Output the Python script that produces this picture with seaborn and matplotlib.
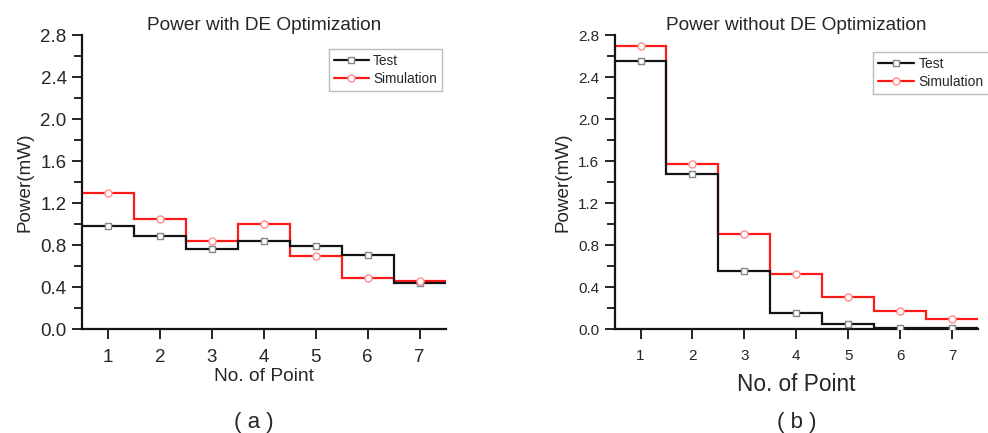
import numpy as np
import seaborn as sns
import matplotlib.pyplot as plt
from matplotlib.lines import Line2D
from matplotlib.ticker import MultipleLocator

# =========================================================
# DATA
# =========================================================

points = np.array([1, 2, 3, 4, 5, 6, 7])

test_with_de = [0.98, 0.89, 0.76, 0.84, 0.79, 0.71, 0.44]
sim_with_de = [1.30, 1.045, 0.835, 1.00, 0.70, 0.49, 0.46]

test_without_de = [2.55, 1.48, 0.55, 0.15, 0.05, 0.015, 0.01]
sim_without_de = [2.70, 1.57, 0.905, 0.525, 0.31, 0.175, 0.10]

titles = ["Power with DE Optimization", "Power without DE Optimization"]
panel_tags = ["( a )", "( b )"]

# =========================================================
# SETTINGS
# =========================================================

sns.set_theme(style="ticks")
plt.rcParams["font.family"] = ["Liberation Sans", "DejaVu Sans"]

BLACK = "#141414"
RED = "#ff1a1a"

fig = plt.figure(figsize=(9.88, 4.33), dpi=100)

ax_a = fig.add_axes([0.083, 0.240, 0.368, 0.679])
ax_b = fig.add_axes([0.622, 0.240, 0.368, 0.679])

edges = np.append(points - 0.5, points[-1] + 0.5)


def draw_panel(ax, test, sim, title, tick_size, xlabel_size, legend_anchor, legend_loc, legend_size):

    ax.stairs(sim, edges, baseline=None, color=RED, linewidth=1.6)
    ax.stairs(test, edges, baseline=None, color=BLACK, linewidth=1.6)

    sns.scatterplot(
        x=points, y=test, ax=ax,
        marker="s", s=22, facecolor="white",
        edgecolor="#888888", linewidth=1.0, zorder=4
    )
    sns.scatterplot(
        x=points, y=sim, ax=ax,
        marker="o", s=26, facecolor="white",
        edgecolor="#ff8c8c", linewidth=1.0, zorder=4
    )

    ax.set_xlim(0.5, 7.5)
    ax.set_ylim(0, 2.8)
    ax.set_xticks(points)
    ax.yaxis.set_major_locator(MultipleLocator(0.4))
    ax.yaxis.set_minor_locator(MultipleLocator(0.2))
    ax.yaxis.set_major_formatter(plt.FuncFormatter(lambda v, p: f"{v:.1f}"))

    ax.tick_params(axis="both", which="major", direction="out",
                   length=7.5, width=1.3, labelsize=tick_size, color=BLACK)
    ax.tick_params(axis="y", which="minor", direction="out",
                   length=6, width=1.3, color=BLACK)
    ax.tick_params(axis="x", pad=7)

    sns.despine(ax=ax)
    for side in ["left", "bottom"]:
        ax.spines[side].set_linewidth(1.6)
        ax.spines[side].set_color(BLACK)

    ax.set_title(title, fontsize=13.7, pad=4)
    ax.set_ylabel("Power(mW)", fontsize=13.6, labelpad=5)
    ax.set_xlabel("No. of Point", fontsize=xlabel_size, labelpad=1)

    handles = [
        Line2D([], [], color=BLACK, linewidth=1.6, marker="s", markersize=4.5,
               markerfacecolor="white", markeredgecolor="#888888"),
        Line2D([], [], color=RED, linewidth=1.6, marker="o", markersize=5,
               markerfacecolor="white", markeredgecolor="#ff8c8c"),
    ]
    leg = ax.legend(
        handles, ["Test", "Simulation"],
        loc=legend_loc, bbox_to_anchor=legend_anchor,
        fontsize=legend_size, frameon=True, fancybox=False,
        handlelength=2.6, handletextpad=0.3, borderpad=0.35,
        labelspacing=0.3, borderaxespad=0
    )
    leg.get_frame().set_edgecolor("#aaaaaa")
    leg.get_frame().set_linewidth(1.0)


draw_panel(ax_a, test_with_de, sim_with_de, titles[0],
           tick_size=13.5, xlabel_size=13.8,
           legend_anchor=(0.989, 0.952), legend_loc="upper right", legend_size=9.8)

draw_panel(ax_b, test_without_de, sim_without_de, titles[1],
           tick_size=11, xlabel_size=16.3,
           legend_anchor=(0.712, 0.942), legend_loc="upper left", legend_size=10)

ax_b.xaxis.labelpad = 7

fig.text(0.257, 0.024, panel_tags[0], ha="center", va="center", fontsize=16)
fig.text(0.806, 0.024, panel_tags[1], ha="center", va="center", fontsize=16)

fig.savefig("out.png", dpi=100)
